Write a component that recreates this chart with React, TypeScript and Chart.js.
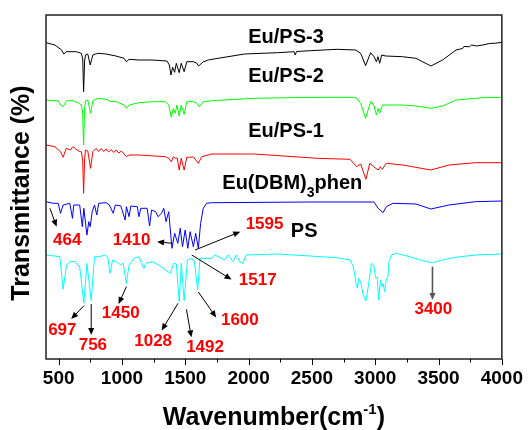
import React, { useEffect, useRef } from 'react';
import { Chart, registerables } from 'chart.js';

Chart.register(...registerables);

type Pt = [number, number];

const FONT = '"Liberation Sans", Arial, Helvetica, sans-serif';

// x axis (wavenumber, cm-1)
const xTickLabels = [500, 1000, 1500, 2000, 2500, 3000, 3500, 4000];
const xMinorTicks = [750, 1250, 1750, 2250, 2750, 3250, 3750];

// Transmittance (arbitrary units, stacked) vs wavenumber
const euPS3: Pt[] = [
  [400, 316.3], [470, 314], [523, 309], [541, 305], [562, 307.3], [640, 307.3], [679, 305.7], [690, 300],
  [697, 267.3], [705, 298], [712, 304], [730, 305], [749, 294], [770, 304], [809, 305.7], [874, 305],
  [952, 303], [1017, 300.7], [1035, 297.3], [1056, 299.7], [1134, 299], [1238, 299], [1355, 298],
  [1374, 294], [1387, 284], [1400, 291.7], [1416, 286.7], [1429, 295.7], [1452, 286.3], [1468, 295.7],
  [1491, 287.3], [1512, 297.3], [1564, 297.3], [1590, 296], [1605, 293], [1640, 297], [1681, 299],
  [1759, 300.7], [1968, 305], [2228, 306.3], [2359, 307.3], [2368, 304], [2378, 307.5], [2488, 308.3],
  [2697, 309.7], [2845, 309], [2885, 305.7], [2924, 293.3], [2951, 302.3], [2964, 306.3], [2991, 302.3],
  [3009, 297.3], [3022, 302.3], [3035, 295.7], [3051, 304], [3083, 303], [3215, 302.3], [3321, 300.7],
  [3440, 293], [3532, 299], [3638, 309], [3690, 310.5], [3700, 312.5], [3744, 312.3], [3760, 314],
  [3800, 313], [3850, 314], [3900, 315.5], [3950, 315.8], [4000, 316.7],
];

const euPS2: Pt[] = [
  [400, 259], [457, 258.3], [496, 258.3], [515, 254], [535, 252.3], [562, 258.3], [613, 258.3],
  [652, 256.3], [680, 254], [690, 245], [697, 214], [705, 250], [712, 258.3], [730, 259], [752, 245.7],
  [770, 258.3], [809, 260.7], [874, 259.7], [913, 257.3], [950, 257.5], [1017, 254], [1035, 250.7],
  [1056, 254], [1134, 256.3], [1238, 257.3], [1343, 257.3], [1369, 254], [1390, 241.7], [1406, 250.7],
  [1421, 245.7], [1434, 254], [1452, 243], [1468, 254], [1491, 244.7], [1512, 257.3], [1564, 257.3],
  [1590, 256], [1610, 252.3], [1642, 257.3], [1707, 258.3], [2046, 260.7], [2400, 261.5], [2845, 261.7],
  [2885, 255.7], [2924, 240.7], [2951, 252.3], [2967, 257.7], [2991, 253], [3009, 244], [3022, 250.7],
  [3035, 245.7], [3057, 254], [3215, 254], [3321, 253], [3440, 250.7], [3532, 253], [3638, 259],
  [3850, 261.3], [4000, 261.7],
];

const euPS1: Pt[] = [
  [400, 214], [470, 212.3], [515, 207.3], [535, 201.7], [560, 210.7], [592, 209], [613, 212.3],
  [652, 208.3], [680, 207], [690, 198], [697, 165.7], [705, 200], [712, 209], [730, 208], [752, 190.7],
  [770, 207.3], [796, 210.7], [815, 207.5], [835, 210.5], [855, 207.5], [875, 210], [895, 207],
  [915, 209.5], [935, 206.5], [955, 209], [975, 206], [995, 208], [1017, 205], [1035, 202.3],
  [1056, 204], [1134, 204], [1343, 202.3], [1369, 200.7], [1390, 197.3], [1406, 202.3], [1421, 200.7],
  [1436, 201], [1452, 189], [1468, 200.7], [1491, 189], [1512, 201.7], [1564, 202], [1603, 195.7],
  [1630, 202.3], [1707, 205], [2046, 205], [2541, 200.7], [2801, 199.7], [2853, 192.3], [2885, 195],
  [2926, 179.7], [2957, 195.7], [2990, 192], [3023, 189], [3041, 192.3], [3056, 189.7], [3087, 195.7],
  [3218, 194], [3439, 189], [3582, 194], [3791, 196.3], [4000, 196.3],
];

const euDBM3phen: Pt[] = [
  [400, 157.3], [457, 155.7], [496, 155.7], [515, 145.7], [535, 154], [588, 155.7], [609, 140.7],
  [619, 154], [666, 154], [687, 132.3], [699, 150.7], [723, 124], [738, 137.3], [749, 132.3],
  [765, 147.3], [783, 154], [801, 144], [816, 155.7], [874, 156.3], [900, 154], [931, 145.7], [947, 154],
  [991, 153], [1025, 139], [1035, 152.3], [1056, 142.3], [1070, 153], [1121, 152.3], [1134, 142.3],
  [1148, 150.7], [1199, 150.7], [1218, 133], [1234, 149], [1265, 147.3], [1285, 142.3], [1312, 145.7],
  [1330, 150.7], [1348, 137.3], [1369, 147.3], [1395, 110.7], [1416, 125.7], [1441, 115.7],
  [1460, 130.7], [1478, 112.3], [1499, 129], [1520, 110.7], [1538, 127.3], [1564, 112.3], [1582, 125.7],
  [1603, 110.7], [1621, 135.7], [1642, 150.7], [1668, 155.7], [1707, 156.3], [2500, 157], [2990, 157],
  [3023, 150.7], [3062, 146.3], [3087, 152.3], [3140, 155.7], [3322, 155], [3439, 150], [3582, 154],
  [3791, 157.3], [4000, 158],
];

const ps: Pt[] = [
  [400, 104], [509, 102.3], [535, 69.7], [562, 94], [588, 97.3], [627, 97.3], [666, 92.3], [699, 55.7],
  [723, 95.7], [757, 58.3], [783, 102.3], [822, 102.3], [861, 104], [887, 102.3], [905, 85.7], [926, 99],
  [965, 96.3], [991, 94], [1009, 96], [1035, 75.7], [1056, 94], [1095, 100.7], [1134, 102.3], [1160, 94],
  [1173, 90.7], [1187, 95.7], [1238, 97.3], [1291, 94], [1343, 89], [1382, 85.7], [1408, 95.7],
  [1429, 95], [1452, 57.3], [1468, 95.7], [1491, 58.3], [1517, 99], [1551, 100.7], [1572, 97],
  [1598, 69], [1616, 100.7], [1707, 100.7], [1734, 104], [1812, 99], [1838, 104], [1877, 97.3],
  [1902, 104], [1929, 97.3], [1955, 95.7], [1980, 104], [2228, 105], [2697, 101.3], [2801, 99],
  [2827, 92.3], [2848, 75.7], [2859, 70.7], [2869, 80.7], [2884, 77.3], [2905, 64], [2926, 58],
  [2945, 72.3], [2970, 95.7], [2988, 94], [3004, 80.7], [3015, 82.3], [3027, 59], [3041, 79],
  [3054, 72.3], [3062, 75.7], [3074, 67.3], [3087, 79], [3100, 82.3], [3109, 97.3], [3127, 104],
  [3166, 105.7], [3270, 102.3], [3374, 98.3], [3452, 96.3], [3530, 99], [3634, 101.7], [3791, 104],
  [4000, 105],
];

const seriesNames = ['Eu/PS-3', 'Eu/PS-2', 'Eu/PS-1', 'Eu(DBM)3phen', 'PS'];
const seriesColors = ['#000000', '#00ff00', '#ff0000', '#0000ff', '#00ffff'];

// text annotations in data coordinates [wavenumber, transmittance]
const seriesLabels = [
  { text: 'Eu/PS-3', at: [2295, 321.5] },
  { text: 'Eu/PS-2', at: [2295, 282.3] },
  { text: 'Eu/PS-1', at: [2295, 227.5] },
  { text: 'PS', at: [2439, 128] },
];
const complexLabel = { main: 'Eu(DBM)', sub: '3', tail: 'phen', at: [2345, 175.7] };

const peakLabels = [
  { text: '464', at: [568, 119] },
  { text: '1410', at: [1076, 119] },
  { text: '1595', at: [2126, 135] },
  { text: '1517', at: [2072, 79] },
  { text: '697', at: [529, 29] },
  { text: '756', at: [770, 14] },
  { text: '1450', at: [990, 46] },
  { text: '1028', at: [1246, 17.3] },
  { text: '1492', at: [1656, 11.7] },
  { text: '1600', at: [1931, 38.5] },
  { text: '3400', at: [3459, 49.7] },
];

const arrows = [
  { from: [431, 150.7], to: [484, 132.3], color: '#000' },
  { from: [1394, 115.7], to: [1277, 117.3], color: '#000' },
  { from: [1577, 109], to: [1934, 127.3], color: '#000' },
  { from: [1551, 104], to: [1865, 79.5], color: '#000' },
  { from: [701, 53.5], to: [599, 40], color: '#000' },
  { from: [757, 55], to: [757, 24], color: '#000' },
  { from: [1035, 72.3], to: [973, 55], color: '#000' },
  { from: [1443, 55.7], to: [1313, 28.5], color: '#000' },
  { from: [1509, 49.7], to: [1548, 21.7], color: '#000' },
  { from: [1603, 67], to: [1744, 41.5], color: '#000' },
  { from: [3452, 92.3], to: [3452, 59], color: '#555' },
];

const xTitle = { main: 'Wavenumber(cm', sup: '-1', tail: ')' };
const yTitle = 'Transmittance (%)';

const decorPlugin = {
  id: 'decor',
  afterDraw(chart: any) {
    const { ctx, chartArea: ca, scales } = chart;
    const xs = scales.x;
    const ys = scales.y;
    const px = (v: number) => xs.getPixelForValue(v);
    const py = (v: number) => ys.getPixelForValue(v);
    ctx.save();
    // frame
    ctx.strokeStyle = '#222';
    ctx.lineWidth = 1.5;
    ctx.strokeRect(ca.left, ca.top, ca.right - ca.left, ca.bottom - ca.top);
    // ticks (outward)
    ctx.lineWidth = 1;
    ctx.strokeStyle = '#000';
    ctx.beginPath();
    xTickLabels.forEach((v) => {
      const x = Math.round(px(v)) + 0.5;
      ctx.moveTo(x, ca.bottom);
      ctx.lineTo(x, ca.bottom + 6);
    });
    xMinorTicks.forEach((v) => {
      const x = Math.round(px(v)) + 0.5;
      ctx.moveTo(x, ca.bottom);
      ctx.lineTo(x, ca.bottom + 3.5);
    });
    ctx.stroke();

    // arrows
    arrows.forEach((a) => {
      const x1 = px(a.from[0]), y1 = py(a.from[1]);
      const x2 = px(a.to[0]), y2 = py(a.to[1]);
      const ang = Math.atan2(y2 - y1, x2 - x1);
      const len = 7, hw = 3;
      ctx.strokeStyle = a.color;
      ctx.fillStyle = a.color;
      ctx.lineWidth = a.color === '#000' ? 1 : 1.6;
      ctx.beginPath();
      ctx.moveTo(x1, y1);
      ctx.lineTo(x2 - Math.cos(ang) * len * 0.8, y2 - Math.sin(ang) * len * 0.8);
      ctx.stroke();
      ctx.beginPath();
      ctx.moveTo(x2, y2);
      ctx.lineTo(x2 - Math.cos(ang) * len - Math.sin(ang) * hw, y2 - Math.sin(ang) * len + Math.cos(ang) * hw);
      ctx.lineTo(x2 - Math.cos(ang) * len + Math.sin(ang) * hw, y2 - Math.sin(ang) * len - Math.cos(ang) * hw);
      ctx.closePath();
      ctx.fill();
    });

    // series labels
    ctx.fillStyle = '#000';
    ctx.textBaseline = 'middle';
    ctx.textAlign = 'center';
    ctx.font = `bold 20px ${FONT}`;
    seriesLabels.forEach((l) => ctx.fillText(l.text, px(l.at[0]), py(l.at[1])));
    // Eu(DBM)3phen with subscript
    {
      const mainFont = `bold 20px ${FONT}`;
      const subFont = `bold 14px ${FONT}`;
      ctx.font = mainFont;
      const w1 = ctx.measureText(complexLabel.main).width;
      const w3 = ctx.measureText(complexLabel.tail).width;
      ctx.font = subFont;
      const w2 = ctx.measureText(complexLabel.sub).width;
      const total = w1 + w2 + w3;
      let x = px(complexLabel.at[0]) - total / 2;
      const y = py(complexLabel.at[1]);
      ctx.textAlign = 'left';
      ctx.font = mainFont;
      ctx.fillText(complexLabel.main, x, y);
      x += w1;
      ctx.font = subFont;
      ctx.fillText(complexLabel.sub, x, y + 10);
      x += w2;
      ctx.font = mainFont;
      ctx.fillText(complexLabel.tail, x, y);
    }

    // peak labels
    ctx.fillStyle = '#ff0000';
    ctx.textAlign = 'center';
    ctx.font = `bold 17px ${FONT}`;
    peakLabels.forEach((l) => ctx.fillText(l.text, px(l.at[0]), py(l.at[1])));

    // x title
    {
      const mainFont = `bold 25px ${FONT}`;
      const supFont = `bold 15px ${FONT}`;
      ctx.fillStyle = '#000';
      ctx.textBaseline = 'alphabetic';
      ctx.textAlign = 'left';
      ctx.font = mainFont;
      const w1 = ctx.measureText(xTitle.main).width;
      const w3 = ctx.measureText(xTitle.tail).width;
      ctx.font = supFont;
      const w2 = ctx.measureText(xTitle.sup).width;
      let x = (ca.left + ca.right) / 2 - (w1 + w2 + w3) / 2;
      const y = 425;
      ctx.font = mainFont;
      ctx.fillText(xTitle.main, x, y);
      x += w1;
      ctx.font = supFont;
      ctx.fillText(xTitle.sup, x, y - 11);
      x += w2;
      ctx.font = mainFont;
      ctx.fillText(xTitle.tail, x, y);
    }
    // y title
    ctx.translate(22, (ca.top + ca.bottom) / 2 + 6);
    ctx.rotate(-Math.PI / 2);
    ctx.textAlign = 'center';
    ctx.textBaseline = 'middle';
    ctx.font = `bold 25px ${FONT}`;
    ctx.fillStyle = '#000';
    ctx.fillText(yTitle, 0, 0);
    ctx.restore();
  },
};

export default function App() {
  const ref = useRef<HTMLCanvasElement | null>(null);
  useEffect(() => {
    if (!ref.current) return;
    const all = [euPS3, euPS2, euPS1, euDBM3phen, ps];
    const chart = new Chart(ref.current, {
      type: 'line',
      data: {
        datasets: all.map((arr, i) => ({
          label: seriesNames[i],
          data: arr.map(([x, y]) => ({ x, y })),
          borderColor: seriesColors[i],
          backgroundColor: seriesColors[i],
          borderWidth: 1,
          pointRadius: 0,
          tension: 0,
          fill: false,
        })),
      },
      options: {
        responsive: false,
        animation: false,
        devicePixelRatio: 1,
        layout: { padding: { left: 46, right: 24, top: 15, bottom: 0 } },
        plugins: { legend: { display: false }, tooltip: { enabled: false } },
        scales: {
          x: {
            type: 'linear',
            min: 400,
            max: 4000,
            grid: { display: false, drawTicks: false },
            border: { display: false },
            afterBuildTicks: (s: any) => {
              s.ticks = xTickLabels.map((v) => ({ value: v }));
            },
            afterFit: (s: any) => {
              s.height = 71;
            },
            ticks: {
              color: '#000',
              padding: 8,
              maxRotation: 0,
              autoSkip: false,
              callback: (v: any) => String(v),
              font: { family: FONT, size: 19, weight: 'bold' },
            },
          },
          y: {
            display: false,
            min: 0,
            max: 344,
          },
        },
      } as any,
      plugins: [decorPlugin],
    });
    return () => chart.destroy();
  }, []);
  return (
    <div style={{ position: 'absolute', left: 0, top: 0, width: 531, height: 430, background: '#fff' }}>
      <canvas ref={ref} width={531} height={430} style={{ display: 'block' }} />
    </div>
  );
}
